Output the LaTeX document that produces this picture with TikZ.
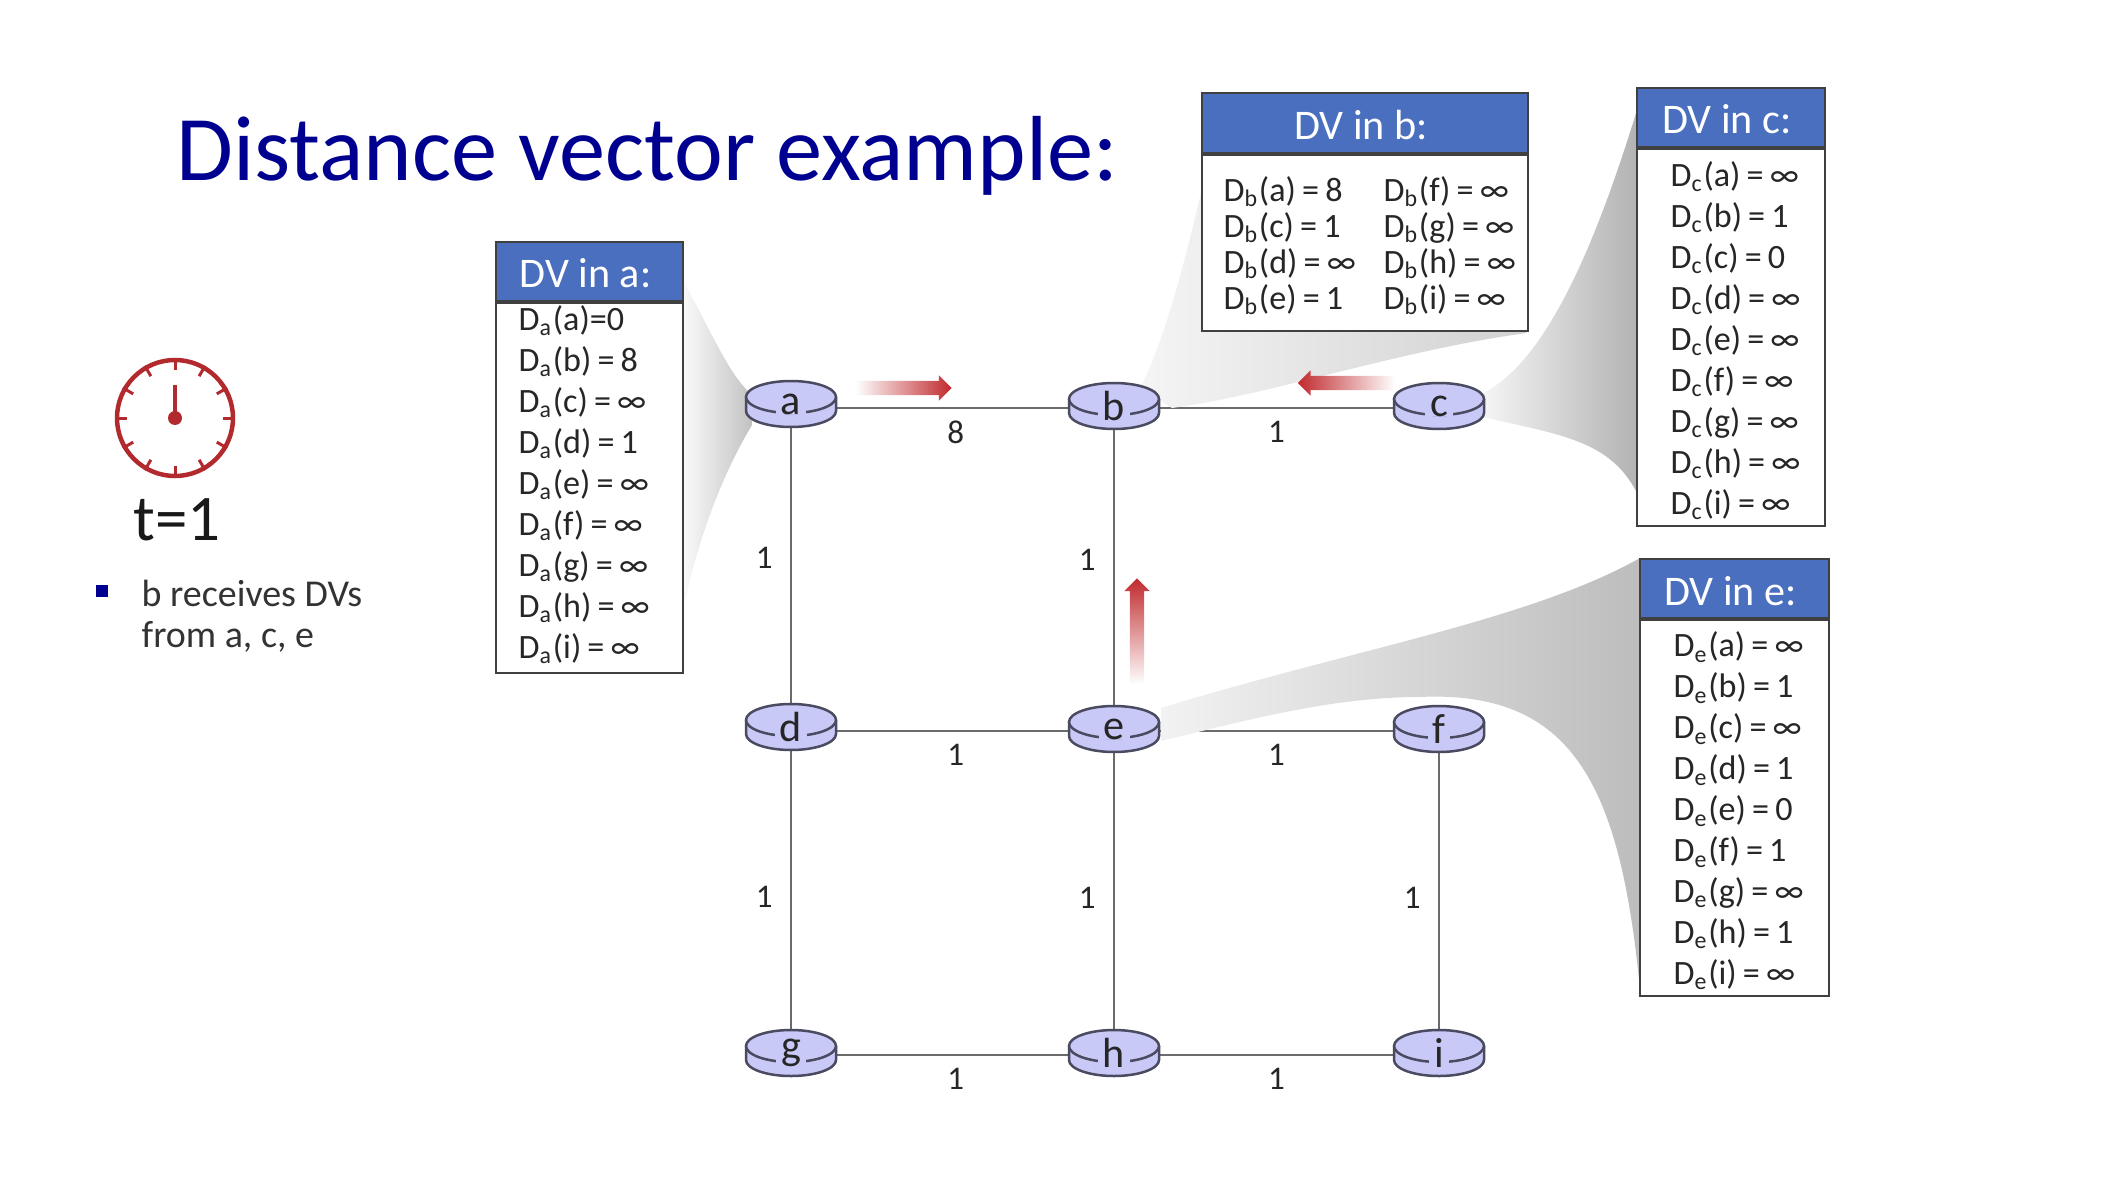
\documentclass[tikz,border=0pt]{standalone}
\usepackage{fontspec}
\setmainfont{Carlito}
\newfontfamily\rowfont{Carlito}[WordSpace=0.8]
\usetikzlibrary{positioning, calc, backgrounds, shapes.arrows}

\definecolor{titleblue}{HTML}{000090}
\definecolor{headblue}{HTML}{4A6FBE}
\definecolor{routerfill}{HTML}{C9C9F7}
\definecolor{routerline}{HTML}{4A4A60}
\definecolor{clockred}{HTML}{B22A2E}
\definecolor{msgred}{HTML}{C02A2E}

\newcommand{\dist}[1]{D\textsubscript{#1}}

\begin{document}
\begin{tikzpicture}[
  x=0.1mm, y=-0.1mm,
  rbody/.style   = {draw=routerline, line width=0.25mm, fill=routerfill},
  router/.style  = {fill=routerfill, text=black!85, inner xsep=0.5mm, inner ysep=0pt,
                    font=\fontsize{12}{12}\selectfont},
  link/.style    = {draw=black!58, line width=0.27mm},
  wgt/.style     = {font=\fontsize{9.4}{11}\selectfont, text=black!85, inner sep=0pt},
  dvhead/.style  = {draw=black!75, fill=headblue, text=white, line width=0.2mm, inner sep=0pt,
                    anchor=north west, text height=3.3mm, text depth=0pt,
                    execute at end node={\hspace{0.8mm}}, font=\fontsize{12}{14}\selectfont},
  dvbody/.style  = {draw=black!75, fill=white, line width=0.2mm, inner sep=0pt},
  dvrows/.style  = {inner sep=0pt, align=left, text=black!85,
                    font=\rowfont\fontsize{9.7}{11.66}\selectfont},
  msg/.style     = {single arrow, draw=none, inner sep=0pt, text height=1.3mm, text depth=0pt,
                    text width=0pt, single arrow head extend=0.55mm},
  fan/.style     = {draw=none},
]
\useasboundingbox (0,0) rectangle (2112,1180);

% --- title and clock -------------------------------------------------------
\node[anchor=base west, inner sep=0pt, text=titleblue, font=\fontsize{26.3}{30}\selectfont]
     (title) at (176,181) {Distance vector example:};

\node[circle, draw=clockred, line width=0.45mm, minimum size=11.6mm, inner sep=0pt] (clock) at (175,418) {};
\foreach \a in {0,30,...,330}
  \draw[clockred, line width=0.3mm] (clock.\a) -- ($(clock.\a)!1.2mm!(clock.center)$);
\draw[clockred, line width=0.4mm] (clock.center) -- ++(0,-33);
\fill[clockred] (clock.center) circle (0.7mm);

\node[anchor=base, inner sep=0pt, text=black!90, font=\fontsize{18.5}{20}\selectfont]
     (time) at (177,540) {t=1};
\node[fill=titleblue, minimum size=1.2mm, inner sep=0pt] (bullet) at (102,591) {};
\node[anchor=north west, inner sep=0pt, align=left, text=black!80, font=\fontsize{10.8}{11.66}\selectfont]
     (note) at (141,579) {b receives DVs\\from a, c, e};

% --- routers ---------------------------------------------------------------
\foreach \n/\x/\y in {a/791/404, b/1114/406, c/1439/406,
                      d/791/727, e/1114/729, f/1439/729,
                      g/791/1053, h/1114/1053, i/1439/1053} {
  \draw[rbody] ({\x-45},{\y-7}) -- ({\x-45},{\y+7})
    arc[start angle=180, end angle=360, x radius=4.5mm, y radius=1.6mm] -- ({\x+45},{\y-7});
  \draw[rbody] (\x,{\y-7}) ellipse[x radius=4.5mm, y radius=1.6mm];
  \node[router] (\n) at (\x,\y) {\n};
}

% --- tables ----------------------------------------------------------------
\node[dvhead, minimum width=18.7mm, minimum height=5.9mm] (heada) at (495,241) {DV in a:};
\node[dvbody, below=0pt of heada, minimum width=18.7mm, minimum height=37mm] (dva) {};
\node[dvrows, right=2.3mm of dva.west, yshift=0.35mm] (rowsa)
  {\dist{a}(a)=0\\ \dist{a}(b) = 8\\ \dist{a}(c) = ∞\\ \dist{a}(d) = 1\\ \dist{a}(e) = ∞\\
   \dist{a}(f) = ∞\\ \dist{a}(g) = ∞\\ \dist{a}(h) = ∞\\ \dist{a}(i) = ∞};

\node[dvhead, minimum width=32.6mm, minimum height=6mm] (headb) at (1201,92) {DV in b:};
\node[dvbody, below=0pt of headb, minimum width=32.6mm, minimum height=17.6mm] (dvb) {};
\node[dvrows, right=2.2mm of dvb.west, yshift=-0.5mm, font=\rowfont\fontsize{9.7}{10.24}\selectfont] (rowsb)
  {\begin{tabular}{@{}p{16mm}@{}l@{}}
   \dist{b}(a) = 8 & \dist{b}(f) = ∞\\
   \dist{b}(c) = 1 & \dist{b}(g) = ∞\\
   \dist{b}(d) = ∞ & \dist{b}(h) = ∞\\
   \dist{b}(e) = 1 & \dist{b}(i) = ∞
   \end{tabular}};

\node[dvhead, minimum width=18.8mm, minimum height=5.9mm] (headc) at (1636,87) {DV in c:};
\node[dvbody, below=0pt of headc, minimum width=18.8mm, minimum height=37.7mm] (dvc) {};
\node[dvrows, right=3.4mm of dvc.west, yshift=-0.3mm] (rowsc)
  {\dist{c}(a) = ∞\\ \dist{c}(b) = 1\\ \dist{c}(c) = 0\\ \dist{c}(d) = ∞\\ \dist{c}(e) = ∞\\
   \dist{c}(f) = ∞\\ \dist{c}(g) = ∞\\ \dist{c}(h) = ∞\\ \dist{c}(i) = ∞};

\node[dvhead, minimum width=18.9mm, minimum height=5.9mm] (heade) at (1639,558) {DV in e:};
\node[dvbody, below=0pt of heade, minimum width=18.9mm, minimum height=37.6mm] (dve) {};
\node[dvrows, right=3.4mm of dve.west, yshift=-0.3mm] (rowse)
  {\dist{e}(a) = ∞\\ \dist{e}(b) = 1\\ \dist{e}(c) = ∞\\ \dist{e}(d) = 1\\ \dist{e}(e) = 0\\
   \dist{e}(f) = 1\\ \dist{e}(g) = ∞\\ \dist{e}(h) = 1\\ \dist{e}(i) = ∞};

% --- links and fans, under the nodes ---------------------------------------
\begin{scope}[on background layer]
  \foreach \u/\v/\w/\p in {a/b/8/.51, b/c/1/.5, d/e/1/.51, e/f/1/.5, g/h/1/.51, h/i/1/.5}
    \draw[link] ([yshift=-0.2mm]\u.center |- \v.center) -- node[wgt, pos=\p, below=1.2mm] {\w}
                ([yshift=-0.2mm]\v.center);
  \foreach \u/\v/\w/\p in {a/d/1/.475, b/e/1/.475, d/g/1/.52, e/h/1/.52, f/i/1/.52}
    \draw[link] (\u.center) -- node[wgt, pos=\p, left=1.7mm] {\w} (\v.center);

  \shade[fan, left color=black!2, right color=black!24]
    (683,280) .. controls (715,340) and (730,375) .. (750,393) -- (752,425)
    .. controls (725,470) and (700,530) .. (683,610) -- cycle;
  \shade[fan, left color=black!4, right color=black!18]
    (1201,193) .. controls (1185,260) and (1165,340) .. (1140,388) -- (1172,408)
    .. controls (1270,395) and (1400,350) .. (1527,333) -- cycle;
  \shade[fan, left color=black!4, right color=black!30]
    (1483,393) .. controls (1550,360) and (1600,230) .. (1637,110) -- (1637,493)
    .. controls (1610,440) and (1560,435) .. (1483,417) -- cycle;
  \shade[fan, left color=black!5, right color=black!26]
    (1161,708) .. controls (1350,650) and (1530,620) .. (1640,558) -- (1640,990)
    .. controls (1620,780) and (1570,690) .. (1419,697) .. controls (1330,697) and (1240,722) .. (1161,741) -- cycle;
\end{scope}

% --- updates sent to b -----------------------------------------------------
\node[msg, minimum height=9.6mm, left color=white, right color=msgred] (fromA) at (900,388) {};
\node[msg, minimum height=9.7mm, shape border rotate=180, left color=msgred, right color=white] (fromC) at (1350,383) {};
\node[msg, minimum height=10.6mm, shape border rotate=90, text width=1.3mm, text height=0pt,
      bottom color=white, top color=msgred] (fromE) at (1137,635) {};

\end{tikzpicture}
\end{document}
